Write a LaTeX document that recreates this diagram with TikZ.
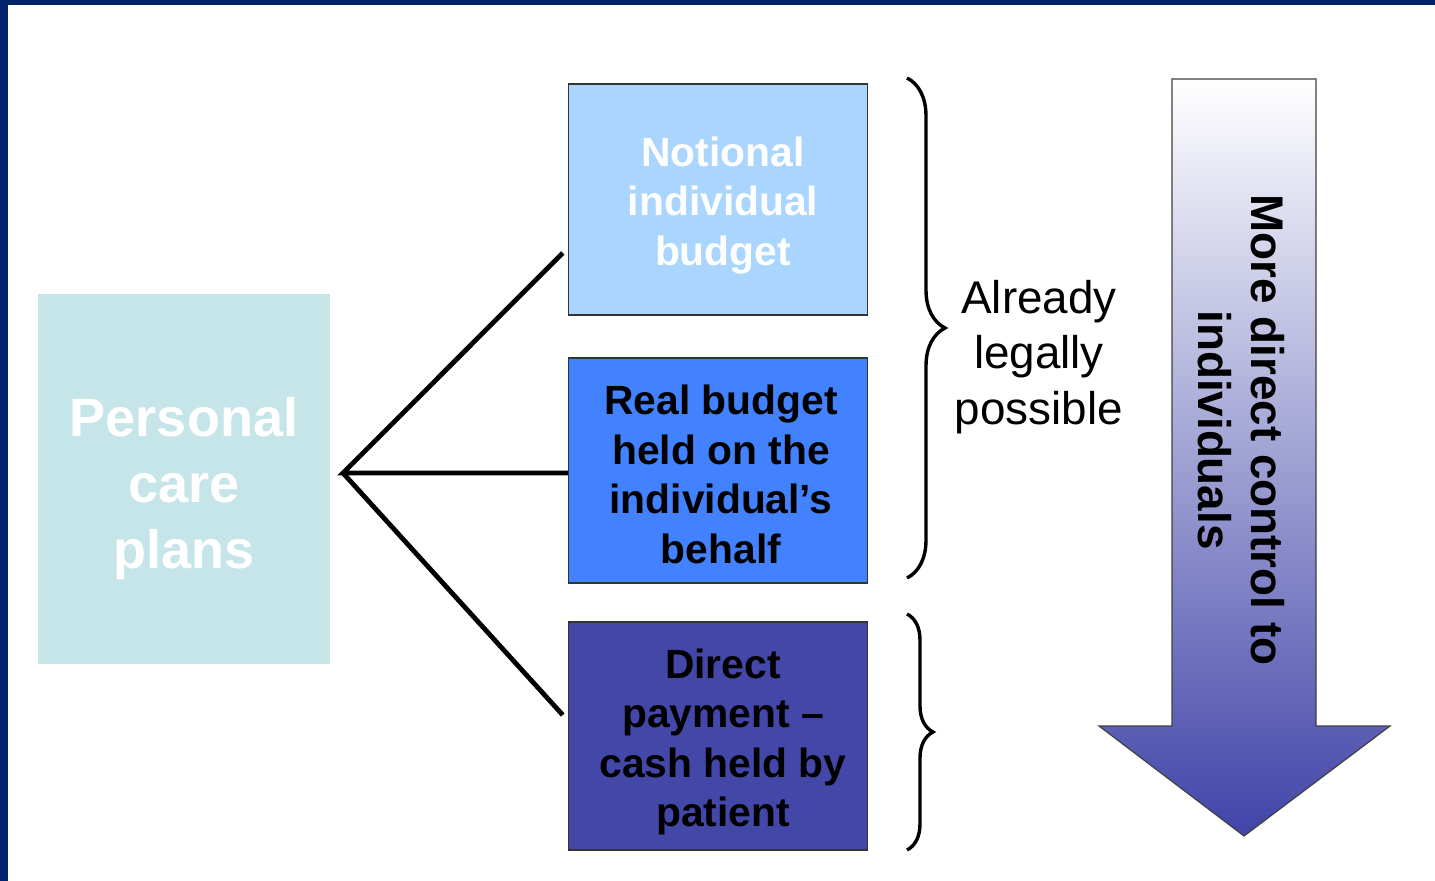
\documentclass[tikz,border=0pt]{standalone}
\usepackage{fontspec}
\setmainfont{Liberation Sans}
\usetikzlibrary{calc,decorations.pathreplacing}

\definecolor{framenavy}{RGB}{0,36,107}
\definecolor{planfill}{RGB}{198,229,232}
\definecolor{notionalfill}{RGB}{169,213,255}
\definecolor{realfill}{RGB}{66,130,255}
\definecolor{directfill}{RGB}{67,71,168}
\definecolor{arrowdark}{RGB}{64,68,168}

\tikzset{
  budgetbox/.style={draw=black!80, line width=0.75pt, minimum width=149.5pt,
    minimum height=114pt},
  boxtext/.style={align=center, font=\bfseries\fontsize{20.4}{24.75}\selectfont},
  branch/.style={line width=2.4pt, black},
  bracket/.style={decorate, line width=1.7pt}
}

\begin{document}
\begin{tikzpicture}[x=0.5pt, y=-0.5pt]

\useasboundingbox (0,0) rectangle (1435,881);
\fill[white] (0,0) rectangle (1435,881);
\fill[framenavy] (0,0) rectangle (1435,5);
\fill[framenavy] (0,0) rectangle (8,881);

\node[fill=planfill, minimum width=146pt, minimum height=185pt]
  (plans) at (184,479) {};
\node[text=white, align=center, font=\bfseries\fontsize{27}{33}\selectfont]
  (planstext) at ($(plans.center)+(0,10)$) {Personal\\care\\plans};

\node[budgetbox, fill=notionalfill, minimum height=115.5pt]
  (notional) at (718,199.5) {};
\node[boxtext, text=white] (notionaltext) at ($(notional.center)+(5,6)$)
  {Notional\\individual\\budget};
\node[budgetbox, fill=realfill, minimum height=112.5pt]
  (real) at (718,470.5) {};
\node[boxtext] (realtext) at ($(real.center)+(3,4)$)
  {Real budget\\held on the\\individual's\\behalf};
\node[budgetbox, fill=directfill]
  (direct) at (718,736) {};
\node[boxtext] (directtext) at ($(direct.center)+(5,6)$)
  {Direct\\payment --\\cash held by\\patient};

% branches
\coordinate (fork) at (343,473);
\draw[branch] ($(notional.west)+(-5,53.5)$) -- (fork) -- (real.west |- fork);
\draw[branch] (fork) -- ($(direct.west)+(-5,-21)$);

% braces
\coordinate (legaltop) at (907,78);
\coordinate (legalbot) at (907,578);
\coordinate (directtop) at (907,614);
\coordinate (directbot) at (907,850);
\draw[bracket, decoration={brace, amplitude=19pt}] (legaltop) -- (legalbot);
\draw[bracket, decoration={brace, amplitude=13pt}] (directtop) -- (directbot);

\node[align=center, font=\fontsize{22.9}{27.75}\selectfont]
  (legal) at (1039,357) {Already\\legally\\possible};

% control arrow
\draw[black!75, line width=0.6pt, top color=white, bottom color=arrowdark]
  (1172,79) -- (1316,79) -- (1316,726) -- (1390,726) -- (1244,836)
  -- (1099,726) -- (1172,726) -- cycle;
\node[rotate=-90, align=center, font=\bfseries\fontsize{22.9}{26.5}\selectfont]
  (control) at (1241.5,430) {More direct control to\\individuals};

\end{tikzpicture}
\end{document}
